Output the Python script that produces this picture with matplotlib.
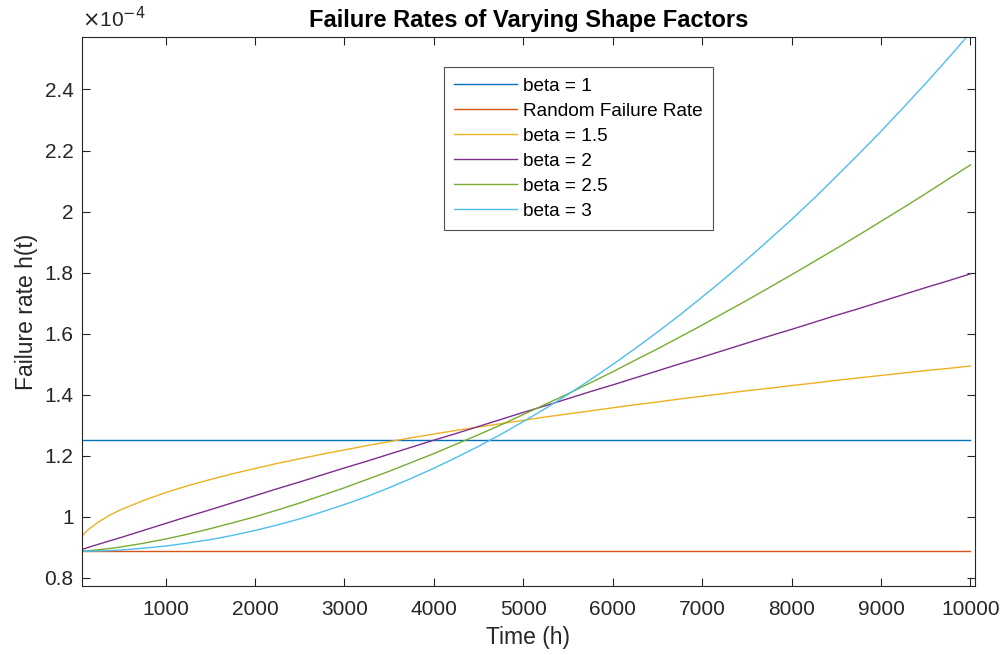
import matplotlib.pyplot as plt
from matplotlib.ticker import FuncFormatter

# time points (h) and failure rates, in units of 1e-4
t = [65, 100, 150, 250, 375, 500, 750, 1000, 1250, 1500, 1750, 2000, 2250, 2500,
     2750, 3000, 3250, 3500, 3750, 4000, 4250, 4500, 4750, 5000, 5250, 5500, 5750,
     6000, 6250, 6500, 6750, 7000, 7250, 7500, 7750, 8000, 8250, 8500, 8750, 9000,
     9250, 9500, 9750, 10000]
beta_1 = [1.25] * len(t)
random_rate = [0.887] * len(t)
beta_15 = [0.936, 0.948, 0.961, 0.983, 1.005, 1.023, 1.053, 1.079, 1.102, 1.122, 1.141,
           1.158, 1.175, 1.190, 1.205, 1.219, 1.233, 1.246, 1.259, 1.271, 1.283, 1.294,
           1.305, 1.316, 1.327, 1.337, 1.347, 1.357, 1.367, 1.376, 1.386, 1.395, 1.404,
           1.413, 1.421, 1.430, 1.438, 1.447, 1.455, 1.463, 1.471, 1.479, 1.486, 1.494]
beta_2 = [0.893, 0.896, 0.901, 0.910, 0.921, 0.932, 0.955, 0.978, 1.001, 1.023, 1.046,
          1.069, 1.092, 1.114, 1.137, 1.160, 1.182, 1.205, 1.228, 1.251, 1.273, 1.296,
          1.319, 1.342, 1.364, 1.387, 1.410, 1.432, 1.455, 1.478, 1.501, 1.523, 1.546,
          1.569, 1.592, 1.614, 1.637, 1.660, 1.682, 1.705, 1.728, 1.751, 1.773, 1.796]
beta_25 = [0.888, 0.888, 0.889, 0.892, 0.896, 0.901, 0.913, 0.927, 0.943, 0.961, 0.980,
           1.000, 1.022, 1.045, 1.070, 1.095, 1.122, 1.149, 1.178, 1.207, 1.238, 1.269,
           1.301, 1.335, 1.369, 1.403, 1.439, 1.475, 1.513, 1.550, 1.589, 1.628, 1.669,
           1.709, 1.751, 1.793, 1.836, 1.879, 1.923, 1.968, 2.013, 2.059, 2.106, 2.153]
beta_3 = [0.887, 0.887, 0.887, 0.888, 0.889, 0.891, 0.897, 0.904, 0.914, 0.925, 0.939,
          0.955, 0.973, 0.993, 1.016, 1.040, 1.066, 1.095, 1.126, 1.159, 1.194, 1.231,
          1.270, 1.312, 1.355, 1.401, 1.449, 1.499, 1.551, 1.605, 1.661, 1.720, 1.780,
          1.843, 1.908, 1.974, 2.043, 2.115, 2.188, 2.263, 2.341, 2.420, 2.502, 2.586]

labels = ['beta = 1', 'Random Failure Rate', 'beta = 1.5', 'beta = 2', 'beta = 2.5', 'beta = 3']
series = [beta_1, random_rate, beta_15, beta_2, beta_25, beta_3]
colors = ['#0072BD', '#D95319', '#EDB120', '#7E2F8E', '#77AC30', '#4DBEEE']

plt.rcParams['font.family'] = ['Liberation Sans', 'DejaVu Sans']
axis_col = '#262626'

fig = plt.figure(figsize=(10.02, 6.55), dpi=100)
ax = fig.add_axes([0.0818, 0.1053, 0.8912, 0.8382])

for vals, lab, col in zip(series, labels, colors):
    ax.plot(t, [v * 1e-4 for v in vals], color=col, lw=1.0, label=lab)

ax.set_xlim(65, 10050)
ax.set_ylim(0.773e-4, 2.572e-4)
ax.set_xticks(range(1000, 10001, 1000))
ax.set_yticks([v * 1e-4 for v in [0.8, 1.0, 1.2, 1.4, 1.6, 1.8, 2.0, 2.2, 2.4]])
ax.yaxis.set_major_formatter(FuncFormatter(lambda v, p: f'{v * 1e4:g}'))
ax.tick_params(direction='in', length=6, width=0.8, colors=axis_col,
               labelsize=15, top=True, right=True)
ax.tick_params(axis='x', pad=10)
ax.tick_params(axis='y', pad=6)
for s in ax.spines.values():
    s.set_color(axis_col)
    s.set_linewidth(0.8)

ax.text(0.0, 1.01, r'$\times$10$^{-4}$', transform=ax.transAxes, fontsize=15,
        color=axis_col, ha='left', va='bottom')
ax.set_xlabel('Time (h)', fontsize=16.5, color=axis_col, labelpad=5)
ax.set_ylabel('Failure rate h(t)', fontsize=16.5, color=axis_col, labelpad=5)
ax.set_title('Failure Rates of Varying Shape Factors', fontsize=17, fontweight='bold',
             color='black', pad=7)

leg = ax.legend(loc='upper left', bbox_to_anchor=(0.405, 0.945), borderaxespad=0,
                fontsize=13.7, frameon=True, fancybox=False, edgecolor=axis_col,
                handlelength=3.3, borderpad=0.55, labelspacing=0.40, handletextpad=0.3)
leg.get_frame().set_linewidth(0.8)

fig.savefig('out.png', dpi=100)
